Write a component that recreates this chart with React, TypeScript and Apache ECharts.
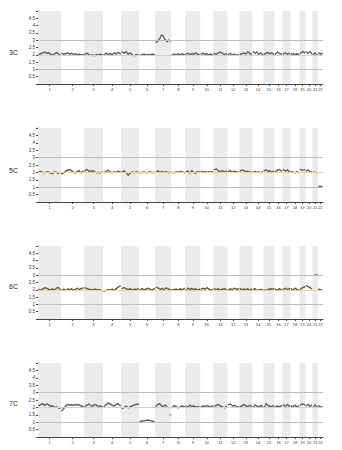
import React, { useEffect, useRef } from "react";
import * as echarts from "echarts";

const chromosomes = ["1","2","3","4","5","6","7","8","9","10","11","12","13","14","15","16","17","18","19","20","21","22"];
const chrSizes = [230,230,190,180,180,160,160,140,150,130,140,120,130,110,110,80,80,90,60,70,55,50];
const panelNames = ["3C","5C","6C","7C"];
const yTicks = [0.5,1,1.5,2,2.5,3,3.5,4,4.5];
const refLines = [1,2,3];

const cn3C: (number | null)[][] = [
  [2.02,2.08,2.12,2.18,2.1,2.15,2.05,1.98,2.05,2.15,2.08,1.98],
  [2.1,2.05,2.08,2.12,2.05,2.1,2.02,2.06,2.0,2.04,1.98,2.02],
  [2.05,2.1,2.02,1.95,2.0,1.94,2.02,1.98,2.04,2.0],
  [2.02,2.1,2.04,2.08,2.0,2.12,2.06,2.15,2.08],
  [2.18,2.12,2.2,2.05,2.12,2.0,1.94,2.02,1.98],
  [1.96,2.02,2.04,1.98,2.02,2.0,2.04,2.02],
  [2.85,2.95,3.1,3.35,3.28,3.05,2.9,3.0,2.95],
  [2.0,2.04,1.98,2.06,2.02,2.08,2.0],
  [2.05,2.1,2.02,2.08,2.04,2.12,2.05,2.0],
  [2.06,2.1,2.02,2.08,1.98,2.04,2.0],
  [2.08,2.04,2.12,2.18,2.1,2.02,2.06],
  [2.02,2.1,1.96,2.04,1.98,2.0],
  [2.05,2.08,2.12,2.06,2.2,2.1,2.04],
  [2.2,2.1,2.18,2.05,2.12,2.02],
  [2.04,2.1,2.15,2.08,2.12,2.06],
  [2.05,2.18,2.1,2.05],
  [2.06,2.12,2.04,2.1],
  [2.05,2.08,2.02,2.06,2.04],
  [2.1,2.22,2.15],
  [2.18,2.1,2.22,2.08],
  [2.02,2.12,1.98],
  [2.12,2.05,2.1],
];

const cn5C: (number | null)[][] = [
  [2.02,2.05,2.0,1.98,2.04,2.02,1.96,1.92,2.02,2.0,1.94,2.0],
  [1.9,1.98,2.1,2.15,2.18,2.12,2.0,1.96,2.06,2.1,1.98,2.08],
  [2.12,2.2,2.1,2.06,2.12,2.04,1.98,2.0,1.96,2.02],
  [2.0,2.06,2.14,2.02,1.98,2.04,2.0,2.08,2.02],
  [2.04,2.1,1.98,1.82,1.96,2.02,1.98,2.04,2.0],
  [1.98,2.0,2.02,1.98,2.0,2.04,1.98,2.0],
  [2.02,2.1,2.0,2.06,2.0,2.04,1.98,2.02],
  [2.0,1.98,2.04,2.0,2.06,2.02,1.98],
  [2.04,2.08,1.96,2.1,2.0,1.94,2.06,2.02],
  [2.08,2.02,2.06,2.0,2.04,2.02,2.06],
  [2.18,2.22,2.1,2.06,2.12,2.04,2.08],
  [2.06,2.12,2.02,2.08,2.04,2.02],
  [2.1,2.16,2.12,2.04,2.08,2.02,2.0],
  [2.02,2.06,2.0,2.04,1.98,2.04],
  [2.12,2.16,2.08,2.1,2.04,2.08],
  [2.06,2.15,2.2,2.1],
  [2.18,2.1,2.16,2.05],
  [2.06,2.02,1.98,2.04,2.0],
  [2.2,2.14,2.18],
  [2.1,2.16,2.06,2.0],
  [2.02,1.98],
  [1.05,1.05],
];

const cn6C: (number | null)[][] = [
  [2.02,1.98,2.06,2.14,2.1,2.04,2.0,2.06,1.98,2.1,2.16,2.02],
  [1.98,2.04,1.96,2.06,2.0,2.08,1.98,2.04,2.1,2.02,2.08,2.12],
  [2.14,2.08,2.04,2.02,2.0,2.04,2.02,1.98,2.0,1.94],
  [1.92,1.96,2.02,1.98,2.04,2.0,2.06,2.18,2.26],
  [2.1,2.14,2.08,2.02,2.06,2.0,2.04,2.02,2.06],
  [2.02,2.08,2.0,2.06,2.1,2.04,2.0,2.08],
  [2.16,2.12,2.04,2.08,2.02,2.12,2.06,2.0],
  [2.0,2.02,2.04,2.0,2.06,2.02,2.08],
  [1.98,2.1,2.04,2.08,2.02,2.06,2.0,2.04],
  [2.06,2.1,2.04,2.14,2.06,1.98,2.02],
  [2.08,2.02,2.06,2.0,2.04,2.08,2.02],
  [2.0,2.06,2.02,2.1,2.04,2.06],
  [2.06,2.02,2.04,2.02,2.06,2.0,2.04],
  [2.02,2.08,1.96,1.98,2.02,2.0],
  [1.96,1.98,2.02,2.06,2.04,2.08],
  [2.04,2.0,2.06,2.02],
  [2.04,2.1,2.02,2.08],
  [2.06,2.0,2.1,2.04,2.0],
  [2.04,2.14,2.2],
  [2.28,2.22,2.16,2.08],
  [null,3.02,3.0],
  [2.04,2.0,1.96],
];

const cn7C: (number | null)[][] = [
  [2.12,2.2,2.24,2.14,2.22,2.18,2.06,2.12,2.0,2.04,1.98,1.95],
  [1.78,1.95,2.12,2.2,2.15,2.18,2.14,2.2,2.16,2.18,2.1,2.06],
  [2.04,2.16,2.22,2.12,2.08,2.2,2.14,2.06,2.1,2.02],
  [2.08,2.18,2.3,2.24,2.14,2.1,2.2,2.24,2.12],
  [1.92,2.0,2.08,1.98,2.04,2.1,2.16,2.2,2.22],
  [1.05,1.08,1.1,1.12,1.14,1.1,1.08,1.02],
  [2.08,2.2,2.24,2.12,2.06,2.14,2.08,null,1.5],
  [2.0,2.12,2.06,1.98,2.04,2.1,2.06],
  [2.08,2.04,2.14,2.06,2.1,2.02,2.06,2.0],
  [2.04,2.1,2.06,2.12,2.08,2.02,2.1],
  [2.06,2.14,2.2,2.1,2.04,1.98,2.08],
  [2.18,2.22,2.1,2.14,2.06,2.02],
  [2.04,2.12,2.2,2.1,2.06,2.14,2.08],
  [2.04,2.16,2.1,2.04,2.12,2.08],
  [2.0,2.26,2.12,2.08,2.06,2.1],
  [2.04,2.08,2.06,2.1],
  [2.16,2.06,2.2,2.08],
  [2.1,2.06,2.14,2.04,2.08],
  [2.16,2.24,2.18],
  [2.12,2.2,2.08,2.14],
  [2.02,2.16,2.04],
  [2.1,2.04,2.02],
];

const panels = [cn3C, cn5C, cn6C, cn7C];

export default function App() {
  const ref = useRef<HTMLDivElement>(null);
  useEffect(() => {
    if (!ref.current) return;
    const chart = echarts.init(ref.current, null, { renderer: "svg" });

    const starts: number[] = [];
    let acc = 0;
    chrSizes.forEach((s) => { starts.push(acc); acc += s; });
    const total = acc;
    const centers = chrSizes.map((s, i) => starts[i] + s / 2);
    const centerLabel: Record<string, string> = {};
    centers.forEach((c, i) => { centerLabel[String(c)] = chromosomes[i]; });

    const bands = chrSizes
      .map((s, i) => (i % 2 === 0 ? [{ xAxis: starts[i] }, { xAxis: starts[i] + s }] : null))
      .filter(Boolean);

    const font = "Liberation Sans, Arial, sans-serif";
    const grids = [
      { top: 11, height: 73 },
      { top: 128, height: 74 },
      { top: 246, height: 73 },
      { top: 363, height: 74 },
    ].map((g) => ({ left: 38, right: 19, top: g.top, height: g.height }));

    const xAxes = grids.map((_, i) => ({
      type: "value",
      gridIndex: i,
      min: 0,
      max: total,
      splitLine: { show: false },
      axisLine: { show: true, lineStyle: { color: "#444", width: 1 } },
      axisTick: { show: true, customValues: centers, length: 2, lineStyle: { color: "#444" } },
      axisLabel: {
        show: true,
        customValues: centers,
        formatter: (v: number) => centerLabel[String(v)] ?? "",
        fontSize: 4,
        color: "#333",
        margin: 3,
        fontFamily: font,
      },
    }));

    const yAxes = grids.map((_, i) => ({
      type: "value",
      gridIndex: i,
      min: 0,
      max: 5,
      interval: 0.5,
      splitLine: { show: false },
      axisLine: { show: true, lineStyle: { color: "#444", width: 1 } },
      axisTick: { show: true, length: 2, lineStyle: { color: "#444" } },
      axisLabel: {
        fontSize: 4.5,
        color: "#333",
        margin: 3,
        fontFamily: font,
        formatter: (v: number) => (yTicks.indexOf(v) >= 0 ? String(v) : ""),
      },
    }));

    const series: any[] = [];
    panels.forEach((panel, p) => {
      const data: any[] = [];
      panel.forEach((vals, c) => {
        const n = vals.length;
        vals.forEach((v, j) => {
          data.push([starts[c] + ((j + 0.5) / n) * chrSizes[c], v === null ? "-" : v]);
        });
        data.push([starts[c] + chrSizes[c], "-"]);
      });
      series.push({
        type: "line",
        xAxisIndex: p,
        yAxisIndex: p,
        data: [],
        z: 1,
        silent: true,
        color: "#bdbdbd",
        markArea: {
          silent: true,
          itemStyle: { color: "#ebebeb" },
          data: bands,
        },
        markLine: {
          silent: true,
          symbol: "none",
          label: { show: false },
          lineStyle: { type: "solid", width: 1, color: "#bdbdbd" },
          data: refLines.map((v) => ({
            yAxis: v,
            lineStyle: { color: v === 2 ? "#efcf9e" : "#bdbdbd", width: 1, type: "solid" },
          })),
        },
      });
      series.push({
        type: "line",
        xAxisIndex: p,
        yAxisIndex: p,
        data,
        z: 3,
        color: "#5a5a54",
        connectNulls: false,
        showSymbol: true,
        showAllSymbol: true,
        symbol: "circle",
        symbolSize: 1.4,
        itemStyle: { color: "#5a5a54", borderWidth: 0 },
        lineStyle: { color: "#62625b", width: 1.2 },
      });
    });

    const titleTops = [49, 167, 283, 400];
    chart.setOption({
      animation: false,
      backgroundColor: "#fff",
      title: panelNames.map((t, i) => ({
        text: t,
        left: 9,
        top: titleTops[i],
        padding: 0,
        textStyle: { fontSize: 7, fontWeight: "normal", color: "#222", fontFamily: font },
      })),
      grid: grids,
      xAxis: xAxes,
      yAxis: yAxes,
      series,
    });
    return () => chart.dispose();
  }, []);
  return <div ref={ref} style={{ width: 342, height: 450, position: "absolute", left: 0, top: 0 }} />;
}
